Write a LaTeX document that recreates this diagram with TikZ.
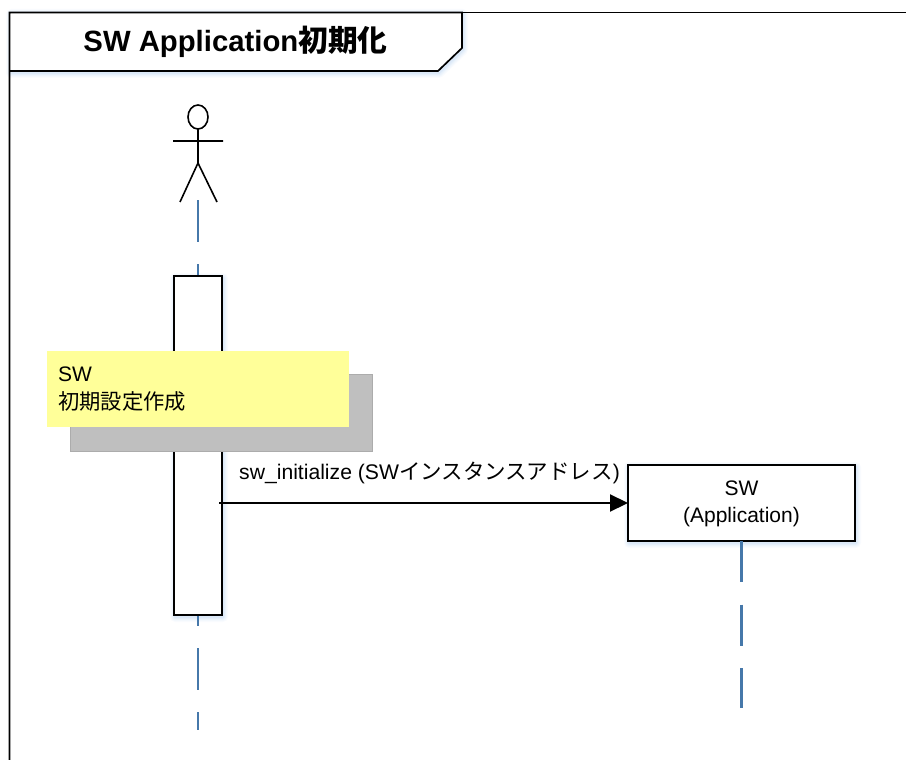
\documentclass[tikz,border=0pt]{standalone}
\usepackage{fontspec}
\setmainfont{Liberation Sans}
\newfontfamily\cjk[Scale=1.015]{Noto Sans CJK JP}
\usetikzlibrary{arrows.meta,shapes.geometric}
\definecolor{lifeblue}{RGB}{70,120,170}
\definecolor{softblue}{RGB}{150,190,235}
\definecolor{noteyellow}{RGB}{255,255,153}
\definecolor{noteshade}{RGB}{191,191,191}
\newcommand{\softrect}[4]{%
  \foreach \g/\o in {5/0.05,4/0.06,3/0.07,2/0.09,1/0.12}{%
    \fill[softblue,opacity=\o,rounded corners=\g pt] (#1-\g+1,#2-\g+2) rectangle (#3+\g+1,#4+\g+2);}%
}
\tikzset{
  x=1pt,y=-1pt,
  ink/.style={draw=black,line width=1.7pt},
  stick/.style={draw=black,line width=1.6pt},
  lifeline/.style={draw=lifeblue,line width=2.4pt,dash pattern=on 42pt off 22pt},
  boxnode/.style={ink,fill=white,inner sep=0pt,outer sep=0pt,align=center,font=\fontsize{21}{27}\selectfont},
  msg/.style={draw=black,line width=2.2pt,-{Triangle[length=18pt,width=17pt]}},
}
\begin{document}
\begin{tikzpicture}
\useasboundingbox (0,0) rectangle (906,760);
% soft shadows
\foreach \g/\o in {10/0.05,8/0.06,6/0.07,4/0.09,2/0.12}{%
  \draw[softblue,opacity=\o,line width=\g pt,line join=round] (11,14) -- (463,14) -- (463,50) -- (439,73) -- (11,73) -- cycle;}
\softrect{174}{276}{222}{615}
\softrect{628}{465}{855}{541}
% frame
\coordinate (frameBL) at (9.5,760);
\coordinate (frameTL) at (9.5,12.5);
\coordinate (frameTR) at (906,12.5);
\coordinate (tabBL) at (9.5,71);
\fill[white] (9.5,12.5) -- (462,12.5) -- (462,48) -- (438,71) -- (9.5,71) -- cycle;
\draw[black,line width=1pt] (462,12.5) -- (frameTR);
\draw[ink] (frameBL) -- (frameTL) -- (462,12.5) -- (462,48) -- (438,71) -- (tabBL);
\node[font=\fontsize{29.3}{32}\selectfont\bfseries] (title) at (235.5,42) {SW Application{\cjk 初期化}};
% actor
\draw[lifeline] (198,200) -- (198,730);
\node[stick,fill=white,ellipse,minimum width=20pt,minimum height=24pt,inner sep=0pt,outer sep=0pt] (head) at (198,117) {};
\coordinate (hip) at (198,163);
\coordinate (armL) at (173,141);
\coordinate (armR) at (223,141);
\coordinate (legL) at (180,202);
\coordinate (legR) at (217,202);
\draw[stick] (head.south) -- (hip) (armL) -- (armR) (legL) -- (hip) -- (legR);
% activation bar
\node[boxnode,minimum width=48pt,minimum height=339pt] (bar) at (198,445.5) {};
% note
\node[fill=noteshade,draw=noteshade!90!black,line width=0.6pt,minimum width=302pt,minimum height=77pt,inner sep=0pt] (noteshadow) at (221,412.5) {};
\node[fill=noteyellow,minimum width=302pt,minimum height=76pt,inner sep=0pt,outer sep=0pt] (note) at (198,389) {};
\node[anchor=west,align=left,inner sep=0pt,font=\fontsize{21}{28}\selectfont] (notetext) at (58,389.5) {SW\\{\cjk 初期設定作成}};
% SW box
\node[boxnode,minimum width=227pt,minimum height=76pt] (sw) at (741.5,503) {};
\node[align=center,inner sep=0pt,font=\fontsize{21}{27}\selectfont] (swtext) at (741.5,503.7) {SW\\(Application)};
\draw[lifeline,dash pattern=on 41pt off 22.5pt] (sw.south) -- (741.5,708);
% message
\coordinate (msgstart) at (219,503);
\draw[msg] (msgstart) -- (sw.west);
\node[anchor=west,inner sep=0pt,font=\fontsize{21.15}{24}\selectfont] (msglabel) at (239,473) {sw\_initialize (SW{\cjk インスタンスアドレス})};
\end{tikzpicture}
\end{document}
